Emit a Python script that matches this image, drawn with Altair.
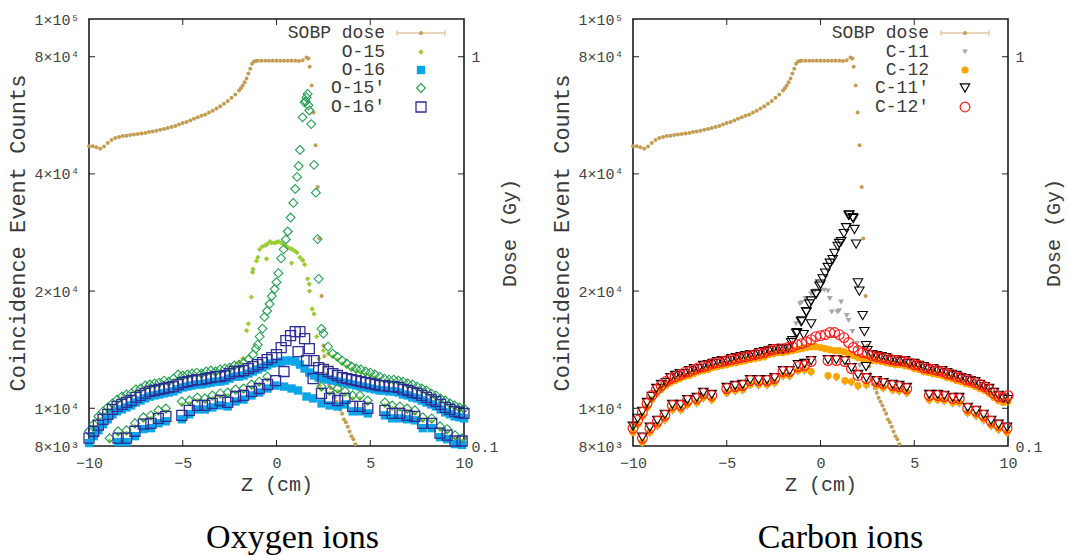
import altair as alt
import pandas as pd

W, H = 375, 427

# ---------------- z positions (cm) ----------------
Z_GRID = [round(-10 + 0.25 * i, 2) for i in range(81)]
Z_HALF = [round(-10 + 0.5 * i, 1) for i in range(41)]
DOSE_Z1 = [round(-10 + 0.2 * i, 1) for i in range(59)]

# ---------------- SOBP dose (Gy) ----------------
DOSE_1 = [0.589, 0.589, 0.585, 0.580, 0.588, 0.600, 0.611, 0.618, 0.622, 0.626,
          0.627, 0.629, 0.631, 0.633, 0.635, 0.637, 0.641, 0.643, 0.645, 0.649,
          0.652, 0.656, 0.660, 0.664, 0.670, 0.676, 0.680, 0.686, 0.693, 0.699,
          0.705, 0.711, 0.719, 0.727, 0.736, 0.746, 0.757, 0.770, 0.784, 0.800,
          0.819, 0.843, 0.879, 0.932, 0.972, 0.977, 0.976, 0.977, 0.976, 0.977,
          0.977, 0.976, 0.976, 0.977, 0.976, 0.977, 0.975, 0.979, 0.995]
DOSE_Z2 = [1.7, 1.77, 1.88, 1.98, 2.08, 2.2, 2.28, 2.4, 2.5, 2.55, 2.6, 2.65, 2.7, 2.8, 2.9,
           3.0, 3.1, 3.2, 3.3, 3.4, 3.5, 3.6, 3.7, 3.8, 3.9, 4.0, 4.1, 4.2,
           -1.9, -1.7, -1.5, -1.3, -1.1]
DOSE_2 = [0.99, 0.943, 0.843, 0.719, 0.592, 0.463, 0.341, 0.243, 0.181, 0.170, 0.160, 0.153, 0.148, 0.144, 0.141,
          0.137, 0.133, 0.130, 0.127, 0.124, 0.121, 0.117, 0.115, 0.112, 0.109, 0.106, 0.104, 0.101,
          0.830, 0.860, 0.905, 0.960, 0.975]

# ---------------- Oxygen ions (counts in thousands) ----------------
O15_UP = [8.58, 8.94, 9.37, 9.65, 9.88, 10.11, 10.35, 10.53, 10.66, 10.72,
          10.98, 11.05, 11.24, 11.31, 11.37, 11.44, 11.58, 11.51, 11.71, 11.92,
          11.92, 11.99, 12.06, 12.14, 12.06, 12.21, 12.28, 12.21, 12.35, 12.43,
          12.50, 12.72, 13.10, 13.42, 16.48, 22.76, 24.4, 26.05, 26.4, 26.6,
          26.67, 26.6, 26.05, 25.7, 25.3, 24.4, 23.4, 20.84, 17.47, 13.42,
          14.07, 13.82, 13.57, 13.34, 13.03, 12.80, 12.58, 12.43, 12.35, 12.21,
          12.14, 11.99, 11.85, 11.71, 11.64, 11.64, 11.58, 11.51, 11.37, 11.31,
          11.18, 11.05, 10.92, 10.72, 10.60, 10.41, 10.29, 10.11, 9.99, 9.88,
          9.82]
O15_PK_Z = [-1.6, -1.34, -1.28, -1.07, -0.9, -0.6, -0.35, -0.1, 0.1, 0.4, 0.6, 0.85, 1.1, 1.4, 1.66,
            1.9, 2.14, 2.3, -0.53, 0.8, 1.76, -1.8]
O15_PK = [15.83, 19.3, 22.36, 23.9, 25.6, 26.2, 26.8, 26.6, 26.8, 26.4, 25.9, 25.6, 25.1, 24.0, 21.5,
          18.0, 15.28, 11.44, 24.2, 23.6, 20.0, 13.42]

O16_UP = [8.14, 8.48, 8.78, 9.10, 9.37, 9.65, 9.82, 9.93, 10.05, 10.17,
          10.35, 10.47, 10.60, 10.72, 10.79, 10.85, 10.92, 10.98, 11.05, 11.18,
          11.31, 11.37, 11.44, 11.51, 11.51, 11.58, 11.64, 11.71, 11.71, 11.78,
          11.92, 12.06, 12.06, 12.14, 12.28, 12.43, 12.58, 12.72, 12.88, 13.03,
          13.10, 13.18, 13.26, 13.26, 13.18, 12.95, 12.65, 12.35, 12.14, 11.99,
          11.92, 11.85, 11.78, 11.71, 11.64, 11.58, 11.51, 11.44, 11.37, 11.31,
          11.24, 11.18, 11.11, 11.11, 11.05, 11.05, 10.98, 10.85, 10.79, 10.66,
          10.60, 10.47, 10.35, 10.23, 10.11, 9.93, 9.76, 9.65, 9.53, 9.48,
          9.42]

O15P_UP = [8.73, 9.10, 9.53, 9.82, 10.05, 10.29, 10.53, 10.72, 10.85, 10.92,
           11.18, 11.24, 11.44, 11.51, 11.58, 11.64, 11.78, 11.71, 11.92, 12.21,
           12.14, 12.21, 12.28, 12.35, 12.28, 12.43, 12.50, 12.43, 12.58, 12.65,
           12.72, 12.88, 12.95, 13.10, 13.34, 13.74, 14.57, 16.02, 17.78, 19.42,
           21.08, 24.27, 27.15, 30.9, 36.6, 46.1, 61.1, 58.2, 42.2, 21.5,
           15.56, 14.40, 13.82, 13.57, 13.26, 13.03, 12.80, 12.65, 12.58, 12.43,
           12.35, 12.21, 12.06, 11.92, 11.85, 11.85, 11.78, 11.71, 11.58, 11.51,
           11.37, 11.24, 11.11, 10.92, 10.79, 10.60, 10.47, 10.29, 10.17, 10.05,
           9.99]
O15P_PK_Z = [-1.1, -0.9, -0.64, -0.37, -0.1, 0.1, 0.38, 0.6, 0.9, 1.1, 1.18, 1.39, 1.6, 1.66,
             1.85, 2.1, 2.19, 2.4, 1.55, 1.7]
O15P_PK = [14.23, 15.28, 17.17, 18.53, 20.24, 22.24, 25.6, 28.45, 33.7, 39.3, 41.9, 55.9, 62.9, 64.2,
           53.7, 35.8, 27.2, 16.0, 61.5, 60.0]

O16P_UP = [8.38, 8.73, 9.05, 9.37, 9.65, 9.93, 10.11, 10.23, 10.35, 10.47,
           10.66, 10.79, 10.92, 11.05, 11.11, 11.18, 11.24, 11.31, 11.37, 11.51,
           11.64, 11.71, 11.78, 11.85, 11.85, 11.92, 11.99, 12.06, 12.06, 12.14,
           12.28, 12.43, 12.43, 12.50, 12.65, 12.80, 12.95, 13.10, 13.34, 13.50,
           13.74, 14.32, 14.92, 15.37, 15.74, 15.74, 15.10, 14.23, 13.26, 12.72,
           12.58, 12.43, 12.28, 12.14, 11.99, 11.92, 11.85, 11.78, 11.71, 11.64,
           11.58, 11.51, 11.44, 11.44, 11.37, 11.37, 11.31, 11.18, 11.11, 10.98,
           10.92, 10.79, 10.66, 10.53, 10.41, 10.23, 10.05, 9.93, 9.82, 9.76,
           9.70]

O16P_LO_Z = [-8.45, -8.0, -7.55, -7.1, -6.7, -6.3, -5.9, -5.05, -4.65, -4.22,
             -3.82, -3.42, -3.0, -2.6, -2.18, -1.76, -1.33, -0.92, -0.48, -0.05,
             0.4, 1.15, 1.6, 1.95, 2.4, 2.83, 3.26, 3.65, 4.06, 4.45,
             4.87, 5.78, 6.17, 6.58, 6.97, 7.38, 7.8, 8.28, 8.72, 9.1,
             9.52, 9.9]
O16P_LO = [8.38, 8.38, 8.73, 9.10, 9.15, 9.42, 9.53, 9.59, 9.88, 10.17,
           10.17, 10.29, 10.47, 10.35, 10.72, 10.79, 11.05, 11.24, 11.51, 11.78,
           12.43, 13.98, 13.26, 11.92, 10.92, 10.60, 10.47, 10.60, 10.11, 10.11,
           9.99, 9.88, 9.70, 9.70, 9.59, 9.53, 9.15, 9.15, 8.63, 8.53,
           8.24, 8.24]
O16_LO_Z = [-8.45, -8.0, -7.55, -7.1, -6.7, -6.3, -5.9, -5.05, -4.65, -4.22,
            -3.82, -3.42, -3.0, -2.6, -2.18, -1.76, -1.33, -0.92, -0.48, -0.05,
            0.4, 0.8, 1.15, 1.6, 1.95, 2.4, 2.83, 3.26, 3.65, 4.06,
            4.45, 4.87, 5.78, 6.17, 6.58, 6.97, 7.38, 7.8, 8.28, 8.72,
            9.1, 9.52, 9.9]
O16_LO = [8.19, 8.19, 8.48, 8.84, 8.89, 9.15, 9.26, 9.37, 9.65, 9.93,
          9.93, 10.05, 10.17, 10.11, 10.41, 10.53, 10.79, 10.98, 11.24, 11.44,
          11.37, 11.24, 11.11, 10.72, 10.60, 10.29, 10.17, 10.11, 10.23, 9.82,
          9.82, 9.70, 9.59, 9.42, 9.42, 9.37, 9.31, 8.89, 8.89, 8.43,
          8.33, 8.09, 8.05]
O15_LO_Z = [-8.9, -8.45, -8.0, -7.55, -7.1, -6.7, -6.3, -5.9, -5.05, -4.65,
            -4.22, -3.82, -3.42, -3.0, -2.6, -2.18, -1.76, -1.33, -0.92, -0.48,
            2.4, 2.83, 3.26, 3.65, 4.06, 4.45, 4.87, 5.78, 6.17, 6.58,
            6.97, 7.38, 7.8, 8.28, 8.72, 9.1, 9.52, 9.9]
O15P_LO = [8.38, 8.73, 8.78, 9.15, 9.48, 9.59, 9.88, 9.99, 10.41, 10.47,
           10.66, 10.60, 10.79, 10.92, 10.98, 11.18, 11.24, 11.51, 11.71, 12.06,
           11.37, 11.11, 11.24, 11.05, 10.79, 10.79, 10.47, 10.35, 10.17, 10.11,
           9.99, 9.88, 9.48, 9.42, 8.99, 8.84, 8.53, 8.38]
O15_LO = [8.24, 8.58, 8.63, 8.99, 9.31, 9.42, 9.70, 9.82, 10.23, 10.29,
          10.47, 10.41, 10.60, 10.72, 10.79, 10.98, 11.05, 11.31, 11.51, 11.85,
          11.18, 10.92, 11.05, 10.85, 10.60, 10.60, 10.29, 10.17, 9.99, 9.93,
          9.82, 9.70, 9.31, 9.26, 8.84, 8.68, 8.38, 8.24]

# ---------------- Carbon ions (counts in thousands) ----------------
C11_UP = [8.58, 9.42, 10.41, 11.05, 11.51, 11.78, 11.99, 12.28, 12.43, 12.65,
          12.80, 12.95, 13.10, 13.26, 13.42, 13.66, 13.74, 15.10, 18.7, 19.65,
          20.0, 19.13, 17.8, 16.8, 14.23, 13.18, 13.10, 12.95, 12.80, 12.72,
          12.50, 12.28, 12.14, 11.99, 11.78, 11.58, 11.37, 11.11, 10.79, 10.35,
          10.29]
C11_PK_Z = [-1.82, -1.65, -1.3, -1.1, -0.8, -0.3, 0.2, 0.4, 0.6, 0.9, 1.1, 1.4, 1.7, 1.95, 2.1]
C11_PK = [14.23, 14.57, 16.48, 18.53, 19.13, 20.0, 20.1, 20.0, 17.68, 17.68, 18.75, 17.3, 15.74, 14.66, 12.88]

C12_UP = [8.68, 9.10, 9.53, 10.05, 10.53, 10.92, 11.18, 11.44, 11.64, 11.78,
          11.92, 12.06, 12.14, 12.28, 12.43, 12.50, 12.58, 12.72, 12.80, 12.88,
          12.95, 13.03, 13.10, 13.18, 13.26, 13.34, 13.42, 13.50, 13.57, 13.74,
          13.82, 13.90, 13.90, 13.98, 14.07, 14.15, 14.23, 14.32, 14.40, 14.40,
          14.32, 14.23, 14.15, 14.07, 14.07, 13.98, 13.82, 13.66, 13.50, 13.42,
          13.34, 13.26, 13.26, 13.18, 13.10, 13.03, 12.95, 12.95, 12.88, 12.80,
          12.65, 12.58, 12.43, 12.35, 12.28, 12.21, 12.14, 11.99, 11.92, 11.78,
          11.71, 11.58, 11.51, 11.37, 11.24, 11.11, 10.92, 10.66, 10.47, 10.35,
          10.41]

C11P_UP = [8.99, 9.42, 9.82, 10.35, 10.72, 11.24, 11.51, 11.64, 11.99, 12.14,
           12.28, 12.28, 12.50, 12.65, 12.65, 12.88, 12.95, 13.03, 13.18, 13.26,
           13.26, 13.42, 13.50, 13.57, 13.66, 13.74, 13.74, 13.90, 13.98, 14.07,
           14.23, 14.23, 14.15, 14.23, 14.92, 15.65, 16.77, 17.68, 18.86, 19.65,
           20.84, 22.24, 23.58, 25.0, 26.5, 28.1, 31.3, 30.7, 21.0, 17.3,
           14.07, 13.74, 13.66, 13.57, 13.50, 13.34, 13.34, 13.18, 13.26, 13.03,
           13.03, 12.88, 12.80, 12.65, 12.65, 12.50, 12.50, 12.35, 12.21, 12.14,
           11.99, 11.92, 11.78, 11.71, 11.51, 11.37, 11.24, 10.98, 10.79, 10.60,
           10.53]
C11P_PK_Z = [-1.56, -1.29, -1.03, -0.76, -0.59, -0.23, -0.05, 0.12, 0.39, 0.65, 0.92, 1.10,
             1.37, 1.54, 1.72, 1.81, 1.90, 2.07, 2.34, 2.43, 2.43, -0.5, -0.9]
C11P_PK = [14.75, 15.56, 16.67, 17.68, 18.53, 19.65, 20.6, 21.5, 23.0, 24.1, 26.05, 26.8,
           29.1, 31.4, 30.9, 28.8, 26.4, 20.0, 15.74, 14.49, 12.80, 16.48, 15.46]

C12P_UP = [8.89, 9.31, 9.76, 10.29, 10.79, 11.18, 11.44, 11.71, 11.92, 12.06,
           12.21, 12.35, 12.43, 12.58, 12.72, 12.80, 12.88, 13.03, 13.10, 13.18,
           13.26, 13.34, 13.42, 13.50, 13.57, 13.66, 13.74, 13.82, 13.90, 14.07,
           14.15, 14.23, 14.23, 14.32, 14.40, 14.57, 14.66, 14.83, 15.01, 15.28,
           15.37, 15.46, 15.65, 15.65, 15.46, 15.19, 14.75, 14.32, 14.07, 13.90,
           13.82, 13.66, 13.57, 13.50, 13.42, 13.34, 13.26, 13.26, 13.18, 13.10,
           12.95, 12.88, 12.72, 12.65, 12.58, 12.50, 12.43, 12.28, 12.21, 12.06,
           11.99, 11.85, 11.78, 11.64, 11.51, 11.37, 11.18, 10.92, 10.72, 10.66,
           10.79]

C_LO_Z = [-9.5, -9.1, -8.7, -8.3, -7.9, -7.45, -7.1, -6.6, -6.25, -5.8,
          -5.0, -4.55, -4.15, -3.75, -3.3, -2.85, -2.45, -2.0, -1.65, -1.2,
          -0.85, -0.5, 0.4, 0.85, 1.3, 1.65, 2.0, 2.45, 3.0, 3.35,
          3.85, 4.2, 4.6, 5.8, 6.25, 6.6, 7.05, 7.4, 7.85, 8.3,
          8.7, 9.1, 9.5, 9.95]
C11_LO = [8.05, 8.53, 8.89, 9.20, 9.76, 9.76, 10.05, 10.17, 10.47, 10.35,
          10.79, 10.92, 10.98, 11.31, 11.31, 11.31, 11.44, 11.92, 11.92, 12.28,
          12.35, 12.21, 11.92, 11.85, 11.58, 11.51, 11.24, 11.31, 11.24, 11.11,
          10.98, 10.92, 10.79, 10.35, 10.35, 10.29, 10.17, 10.17, 9.59, 9.42,
          9.20, 8.89, 8.68, 8.53]
C12_LO = [8.19, 8.68, 9.05, 9.37, 9.93, 9.93, 10.23, 10.35, 10.66, 10.53,
          10.98, 11.11, 11.18, 11.51, 11.51, 11.51, 11.64, 12.14, 12.14, 12.50,
          12.58, 12.43, 12.14, 12.06, 11.78, 11.71, 11.44, 11.51, 11.44, 11.31,
          11.18, 11.11, 10.98, 10.53, 10.53, 10.47, 10.35, 10.35, 9.76, 9.59,
          9.37, 9.05, 8.84, 8.68]
C11P_LO = [8.43, 8.94, 9.31, 9.65, 10.23, 10.23, 10.53, 10.66, 10.98, 10.85,
           11.31, 11.44, 11.51, 11.85, 11.85, 11.85, 11.99, 12.50, 12.50, 12.95,
           13.03, 13.26, 13.34, 13.34, 13.26, 12.72, 12.21, 11.99, 11.78, 11.64,
           11.51, 11.44, 11.31, 10.85, 10.85, 10.79, 10.66, 10.66, 10.05, 9.88,
           9.65, 9.31, 9.10, 8.94]
C12P_LO = [8.38, 8.89, 9.26, 9.59, 10.17, 10.17, 10.47, 10.60, 10.92, 10.79,
           11.24, 11.37, 11.44, 11.78, 11.78, 11.78, 11.92, 12.43, 12.43, 12.80,
           12.88, 13.18, 13.26, 13.26, 13.18, 12.65, 12.14, 11.92, 11.71, 11.58,
           11.44, 11.37, 11.24, 10.79, 10.79, 10.72, 10.60, 10.60, 9.99, 9.82,
           9.59, 9.26, 9.05, 8.89]

COUNT_TICKS = [8000, 10000, 20000, 40000, 80000, 100000]
Z_TICKS = [-10, -5, 0, 5, 10]
DOSE_TICKS = [0.1, 1]

# ---------------- styling ----------------
DOSE_COLOR = "#c49c52"
MONO = "Liberation Mono"
TXT = "#3a3a3a"

X_ENC = alt.X("z:Q", scale=alt.Scale(domain=[-10, 10], nice=False, zero=False, padding=0),
              axis=alt.Axis(values=Z_TICKS, title="Z (cm)", ticks=False, grid=False, domain=False,
                            labelPadding=9, titlePadding=4, titleFontSize=20, format="d"))
Y_ENC = alt.Y("counts:Q", scale=alt.Scale(type="log", domain=[8000, 100000], nice=False, padding=0),
              axis=alt.Axis(values=COUNT_TICKS, ticks=False, grid=False, domain=False,
                            labelExpr=("datum.value < 9000 ? '8×10³' : datum.value < 15000 ? '1×10⁴' : "
                                       "datum.value < 30000 ? '2×10⁴' : datum.value < 60000 ? '4×10⁴' : "
                                       "datum.value < 90000 ? '8×10⁴' : '1×10⁵'"),
                            title="Coincidence Event Counts", labelPadding=10, titlePadding=4))
DOSE_ENC = alt.Y("dose:Q", scale=alt.Scale(type="log", domain=[0.1, 1.25], nice=False, padding=0),
                 axis=alt.Axis(orient="right", values=DOSE_TICKS, ticks=False, grid=False, domain=False,
                               labelExpr="datum.value < 0.5 ? '0.1' : '1'",
                               title="Dose (Gy)", titleAngle=270, titleBaseline="top", titleFontSize=20,
                               labelPadding=7, titlePadding=1))


def frame(zs, ks):
    assert len(zs) == len(ks), (len(zs), len(ks))
    return pd.DataFrame({"z": zs, "counts": [k * 1000 for k in ks]})


def pts(df, shape, filled, color, size, sw=1.0):
    return alt.Chart(df).mark_point(shape=shape, filled=filled, color=color, size=size,
                                    strokeWidth=sw, opacity=1).encode(x=X_ENC, y=Y_ENC)


ONE = pd.DataFrame({"a": [1]})
LEG_Y = [14, 33, 51, 69, 88]


def legend_layers(labels, styles):
    out = []
    out.append(alt.Chart(ONE).mark_rule(color=DOSE_COLOR, opacity=0.55, strokeWidth=1.5).encode(
        x=alt.value(308), x2=alt.value(356), y=alt.value(LEG_Y[0])))
    for xx in (308, 356):
        out.append(alt.Chart(ONE).mark_rule(color=DOSE_COLOR, opacity=0.55, strokeWidth=1.2).encode(
            x=alt.value(xx), y=alt.value(LEG_Y[0] - 3), y2=alt.value(LEG_Y[0] + 3)))
    out.append(alt.Chart(ONE).mark_point(shape="circle", filled=True, color=DOSE_COLOR, size=16, opacity=1).encode(
        x=alt.value(332), y=alt.value(LEG_Y[0])))
    for i, lab in enumerate(labels):
        out.append(alt.Chart(ONE).mark_text(text=lab, align="right", baseline="middle", font=MONO,
                                            fontSize=18, color=TXT).encode(x=alt.value(296), y=alt.value(LEG_Y[i])))
    for i, (shape, filled, color, size, sw) in enumerate(styles):
        out.append(alt.Chart(ONE).mark_point(shape=shape, filled=filled, color=color, size=size,
                                             strokeWidth=sw, opacity=1).encode(x=alt.value(332), y=alt.value(LEG_Y[i + 1])))
    return out


def tick_layers():
    yt = pd.DataFrame({"counts": [10000, 20000, 40000, 80000]})
    xt = pd.DataFrame({"z": [-5, 0, 5]})
    c = "#202020"
    return [
        alt.Chart(yt).mark_rule(color=c, strokeWidth=1).encode(y=Y_ENC, x=alt.value(0), x2=alt.value(6)),
        alt.Chart(yt).mark_rule(color=c, strokeWidth=1).encode(y=Y_ENC, x=alt.value(W - 6), x2=alt.value(W)),
        alt.Chart(xt).mark_rule(color=c, strokeWidth=1).encode(x=X_ENC, y=alt.value(H - 6), y2=alt.value(H)),
        alt.Chart(xt).mark_rule(color=c, strokeWidth=1).encode(x=X_ENC, y=alt.value(0), y2=alt.value(6)),
    ]


dose_df = pd.DataFrame({"z": DOSE_Z1 + DOSE_Z2, "dose": DOSE_1 + DOSE_2})
assert len(DOSE_Z1) == len(DOSE_1) and len(DOSE_Z2) == len(DOSE_2)


def dose_layer():
    return alt.Chart(dose_df).mark_point(shape="circle", filled=True, color=DOSE_COLOR, size=16, opacity=1).encode(
        x=X_ENC, y=DOSE_ENC)


def panel(series, labels, styles, title, dx):
    marks = []
    for df, st in zip(series, styles):
        marks.append(pts(df, *st))
    inner = alt.layer(*marks, *tick_layers(), *legend_layers(labels, styles))
    return alt.layer(dose_layer(), inner).resolve_scale(y="independent").properties(
        width=W, height=H,
        title=alt.TitleParams(text=title, orient="bottom", anchor="middle", frame="group",
                              font="Liberation Serif", fontSize=34, fontWeight="normal", color="#000",
                              offset=27, dx=dx))


# Oxygen
O_STYLES = [("diamond", True, "#9acd32", 28, 1.0),
            ("square", True, "#0aa6e8", 70, 1.0),
            ("diamond", False, "#1f9f4f", 78, 1.1),
            ("square", False, "#2e2e96", 100, 1.3)]
o15 = pd.concat([frame(Z_GRID, O15_UP), frame(O15_PK_Z, O15_PK), frame(O15_LO_Z, O15_LO)])
o16 = pd.concat([frame(Z_GRID, O16_UP), frame(O16_LO_Z, O16_LO)])
o15p = pd.concat([frame(Z_GRID, O15P_UP), frame(O15P_PK_Z, O15P_PK), frame(O15_LO_Z, O15P_LO)])
o16p = pd.concat([frame(Z_GRID, O16P_UP), frame(O16P_LO_Z, O16P_LO)])
left = panel([o15, o16, o15p, o16p], ["SOBP dose", "O-15", "O-16", "O-15′", "O-16′"], O_STYLES,
             "Oxygen ions", 16)

# Carbon
C_STYLES = [("triangle-down", True, "#a8a8a8", 34, 1.0),
            ("circle", True, "#ffa500", 52, 1.0),
            ("triangle-down", False, "#000000", 90, 1.1),
            ("circle", False, "#ff1a1a", 95, 1.2)]
c11 = pd.concat([frame(Z_HALF, C11_UP), frame(C11_PK_Z, C11_PK), frame(C_LO_Z, C11_LO)])
c12 = pd.concat([frame(Z_GRID, C12_UP), frame(C_LO_Z, C12_LO)])
c11p = pd.concat([frame(Z_GRID, C11P_UP), frame(C11P_PK_Z, C11P_PK), frame(C_LO_Z, C11P_LO)])
c12p = pd.concat([frame(Z_GRID, C12P_UP), frame(C_LO_Z, C12P_LO)])
right = panel([c11, c12, c11p, c12p], ["SOBP dose", "C-11", "C-12", "C-11′", "C-12′"], C_STYLES,
              "Carbon ions", 20)

chart = alt.hconcat(left, right, spacing=30).properties(
    padding={"left": 6, "top": 11, "right": 5, "bottom": 0}, background="white"
).configure_view(stroke="#1a1a1a", strokeWidth=1.6).configure_axis(
    labelFont=MONO, titleFont=MONO, labelFontSize=15, titleFontSize=22, titleFontWeight="normal",
    labelColor="#444", titleColor=TXT, labelFlush=False
)

chart.save("out.html", embed_options={"renderer": "svg", "actions": False})
